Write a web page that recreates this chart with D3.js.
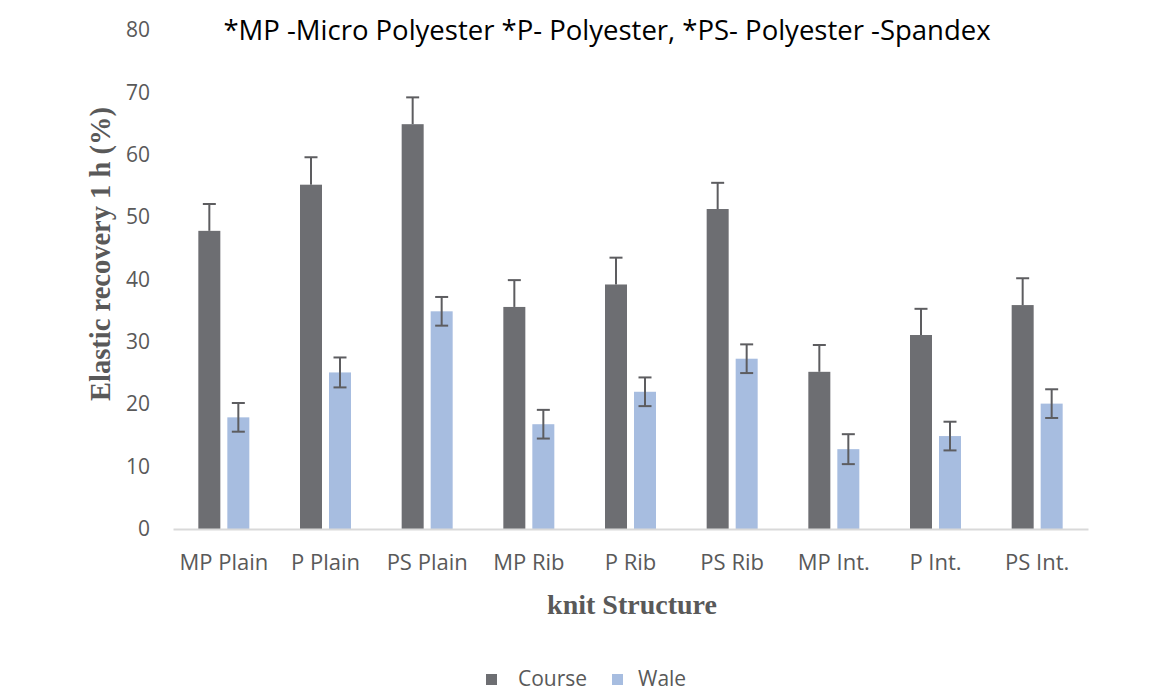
<!DOCTYPE html>
<html>
<head>
<meta charset="utf-8">
<script src="https://cdn.jsdelivr.net/npm/d3@7"></script>
<style>
  body { margin: 0; background: #fff; }
  svg text { font-family: "Open Sans", Lato, sans-serif; }
</style>
</head>
<body>
<svg id="canvas" width="1166" height="692"></svg>
<script>
// data
let categories = ['MP Plain', 'P Plain', 'PS Plain', 'MP Rib', 'P Rib', 'PS Rib', 'MP Int.', 'P Int.', 'PS Int.']
let series = ['Course', 'Wale']
let courseValues = [47.8, 55.2, 64.9, 35.6, 39.2, 51.3, 25.2, 31.1, 35.9]
let waleValues = [17.9, 25.1, 34.9, 16.8, 22.0, 27.3, 12.8, 14.9, 20.1]
let courseErrors = [4.3, 4.4, 4.3, 4.3, 4.3, 4.2, 4.3, 4.2, 4.3]
let waleErrors = [2.3, 2.4, 2.3, 2.3, 2.3, 2.3, 2.4, 2.3, 2.3]
let yTicks = [0, 10, 20, 30, 40, 50, 60, 70, 80]
let colors = ['#6d6e72', '#a7bde0']

let canvas = d3.select('#canvas')

let plotLeft = 173
let plotRight = 1088
let plotTop = 30
let plotBottom = 529

let xScale = d3.scaleBand()
    .domain(categories)
    .range([plotLeft, plotRight])

let groupWidth = 51
let xInner = d3.scaleBand()
    .domain(series)
    .range([(xScale.bandwidth() - groupWidth) / 2, (xScale.bandwidth() + groupWidth) / 2])
    .paddingInner(0.2414)

let yScale = d3.scaleLinear()
    .domain([0, 80])
    .range([plotBottom, plotTop])

let rows = categories.map((c, i) => {
    return {
        category: c,
        bars: [
            {series: 'Course', value: courseValues[i], err: courseErrors[i]},
            {series: 'Wale', value: waleValues[i], err: waleErrors[i]}
        ]
    }
})

let color = d3.scaleOrdinal().domain(series).range(colors)

// y axis labels (no line)
let yAxis = d3.axisLeft(yScale).tickValues(yTicks).tickSize(0).tickPadding(23)
let yG = canvas.append('g')
    .attr('transform', 'translate(' + plotLeft + ',0)')
    .call(yAxis)
yG.select('.domain').remove()
yG.selectAll('text')
    .attr('fill', '#595959')
    .style('font-size', '21px')

// groups
let groups = canvas.selectAll('.group')
    .data(rows)
    .enter()
    .append('g')
    .attr('class', 'group')
    .attr('transform', (d) => {
        return 'translate(' + xScale(d.category) + ',0)'
    })

groups.selectAll('rect')
    .data((d) => d.bars)
    .enter()
    .append('rect')
    .attr('x', (b) => xInner(b.series))
    .attr('y', (b) => yScale(b.value))
    .attr('width', xInner.bandwidth())
    .attr('height', (b) => yScale(0) - yScale(b.value))
    .attr('fill', (b) => color(b.series))

// error bars
let capHalf = 6.5
let errs = groups.selectAll('.err')
    .data((d) => d.bars)
    .enter()
    .append('g')
    .attr('class', 'err')
    .attr('stroke', '#5d5d60')
    .attr('stroke-width', 2)

errs.append('line')
    .attr('x1', (b) => xInner(b.series) + xInner.bandwidth() / 2)
    .attr('x2', (b) => xInner(b.series) + xInner.bandwidth() / 2)
    .attr('y1', (b) => yScale(b.value - (b.series === 'Wale' ? b.err : 0)))
    .attr('y2', (b) => yScale(b.value + b.err))

errs.append('line')
    .attr('x1', (b) => xInner(b.series) + xInner.bandwidth() / 2 - capHalf)
    .attr('x2', (b) => xInner(b.series) + xInner.bandwidth() / 2 + capHalf)
    .attr('y1', (b) => yScale(b.value + b.err))
    .attr('y2', (b) => yScale(b.value + b.err))

errs.filter((b) => b.series === 'Wale')
    .append('line')
    .attr('x1', (b) => xInner(b.series) + xInner.bandwidth() / 2 - capHalf)
    .attr('x2', (b) => xInner(b.series) + xInner.bandwidth() / 2 + capHalf)
    .attr('y1', (b) => yScale(b.value - b.err))
    .attr('y2', (b) => yScale(b.value - b.err))

// x axis
let xAxis = d3.axisBottom(xScale).tickSize(0).tickPadding(25)
let xG = canvas.append('g')
    .attr('transform', 'translate(0,' + plotBottom + ')')
    .call(xAxis)
xG.select('.domain')
    .attr('stroke', '#d9d9d9')
    .attr('stroke-width', 2)
xG.selectAll('text')
    .attr('fill', '#595959')
    .style('font-size', '22px')

// title
canvas.append('text')
    .attr('x', 607)
    .attr('y', 40)
    .attr('text-anchor', 'middle')
    .attr('fill', '#000')
    .style('font-size', '27.5px')
    .text('*MP -Micro Polyester *P- Polyester, *PS- Polyester -Spandex')

// axis titles
canvas.append('text')
    .attr('transform', 'translate(110,' + 254 + ') rotate(-90)')
    .attr('text-anchor', 'middle')
    .attr('fill', '#595959')
    .style('font-family', '"Liberation Serif", "Times New Roman", serif')
    .style('font-weight', 'bold')
    .style('font-size', '28.5px')
    .text('Elastic recovery 1 h (%)')

canvas.append('text')
    .attr('x', 632)
    .attr('y', 614)
    .attr('text-anchor', 'middle')
    .attr('fill', '#595959')
    .style('font-family', '"Liberation Serif", "Times New Roman", serif')
    .style('font-weight', 'bold')
    .style('font-size', '28px')
    .text('knit Structure')

// legend
let legendItems = [{name: 'Course', x: 486, tx: 32}, {name: 'Wale', x: 612, tx: 26}]
let legend = canvas.selectAll('.legend')
    .data(legendItems)
    .enter()
    .append('g')
    .attr('class', 'legend')
    .attr('transform', (d) => 'translate(' + d.x + ',674)')

legend.append('rect')
    .attr('width', 11)
    .attr('height', 11)
    .attr('fill', (d) => color(d.name))

legend.append('text')
    .attr('x', (d) => d.tx)
    .attr('y', 12)
    .attr('fill', '#595959')
    .style('font-size', '21px')
    .text((d) => d.name)
</script>
</body>
</html>
